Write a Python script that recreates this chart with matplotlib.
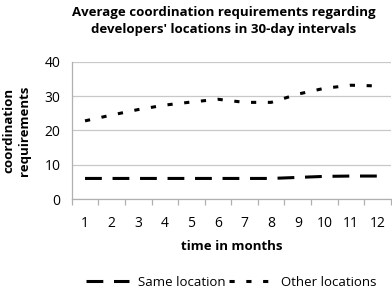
import numpy as np
import matplotlib
matplotlib.use("Agg")
from matplotlib import pyplot as plt

plt.rcParams['font.family'] = ['Open Sans', 'DejaVu Sans']

# Data
months = [1, 2, 3, 4, 5, 6, 7, 8, 9, 10, 11, 12]
same_location = [6.0, 6.0, 6.0, 6.0, 6.0, 6.0, 6.0, 6.0, 6.3, 6.6, 6.7, 6.7]
other_locations = [22.8, 24.5, 26.1, 27.4, 28.3, 29.1, 28.2, 28.2, 30.6, 32.3, 33.2, 33.0]
y_ticks = [0, 10, 20, 30, 40]

fig = plt.figure(figsize=(3.92, 2.88), dpi=100)
ax = fig.add_axes([0.183, 0.309, 0.814, 0.476])

x = np.arange(len(months))
ax.plot(x, same_location, color='black', lw=2.2, linestyle=(0, (5.5, 3.5)),
        label='Same location', dash_capstyle='butt')
ax.plot(x, other_locations, color='black', lw=2.2, linestyle=(0, (1.7, 3.8)),
        label='Other locations', dash_capstyle='butt')

ax.set_xlim(-0.5, len(months) - 0.5)
ax.set_ylim(0, 40)
ax.set_yticks(y_ticks)
ax.set_yticklabels([str(t) for t in y_ticks], fontsize=10)
ax.yaxis.grid(True, color='#c8c8c8', lw=0.9)
ax.set_axisbelow(True)
ax.tick_params(axis='y', length=0, pad=8)

# category labels between boundary tick marks
ax.set_xticks(x)
ax.set_xticklabels([str(m) for m in months], fontsize=10)
ax.set_xticks(np.arange(len(months) + 1) - 0.5, minor=True)
ax.tick_params(axis='x', which='major', length=0, pad=12)
ax.tick_params(axis='x', which='minor', length=4, color='#b0b0b0', width=0.9)

for s in ['top', 'right']:
    ax.spines[s].set_visible(False)
for s in ['left', 'bottom']:
    ax.spines[s].set_color('#b0b0b0')
    ax.spines[s].set_linewidth(0.9)

ax.set_xlabel('time in months', fontsize=9.5, fontweight='bold', labelpad=7)
ax.set_ylabel('coordination\nrequirements', fontsize=9.5, fontweight='bold', labelpad=10)

fig.text(0.57, 0.928, "Average coordination requirements regarding\ndevelopers' locations in 30-day intervals",
         ha='center', va='center', fontsize=9.5, fontweight='bold', linespacing=1.4)

fig.legend(loc='center', bbox_to_anchor=(0.59, 0.02), ncol=2, frameon=False,
           fontsize=9.5, handlelength=3.2, handletextpad=0.7, columnspacing=0.3)

fig.savefig('out.png', dpi=100)
